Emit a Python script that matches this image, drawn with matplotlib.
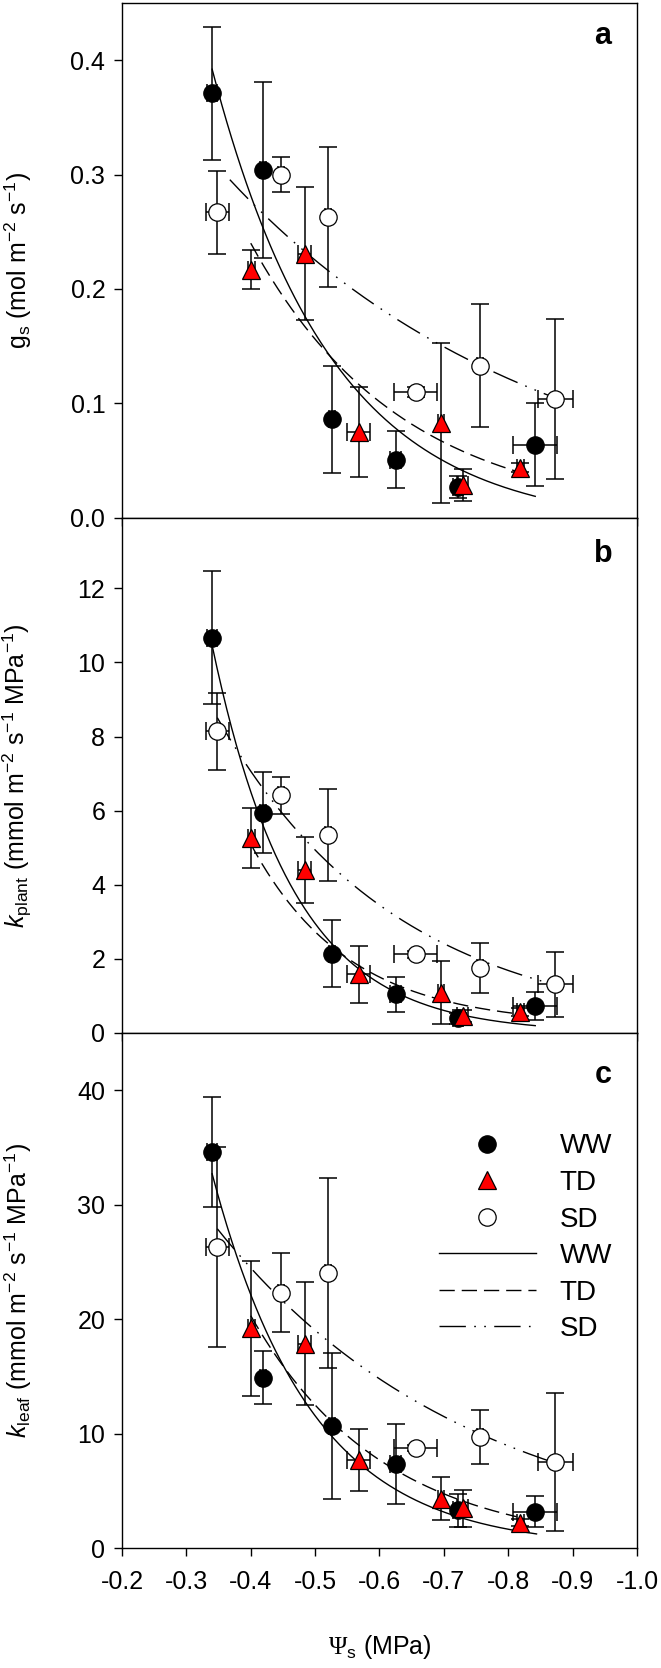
"""
gs, kplant and kleaf against soil water potential (WW / TD / SD)
"""

import numpy as np
import matplotlib
matplotlib.use("Agg")
import matplotlib.pyplot as plt

plt.rcParams["font.family"] = ["Liberation Sans", "DejaVu Sans"]
plt.rcParams["font.size"] = 18
plt.rcParams["mathtext.fontset"] = "custom"
plt.rcParams["mathtext.rm"] = "Liberation Sans"
plt.rcParams["mathtext.it"] = "Liberation Sans:italic"
plt.rcParams["mathtext.sf"] = "Liberation Serif"  # used only for the Psi symbol

# soil water potential (MPa) and its error, per treatment
psi_ww = [-0.340, -0.419, -0.526, -0.625, -0.722, -0.842]
psi_td = [-0.401, -0.484, -0.568, -0.696, -0.729, -0.819]
psi_sd = [-0.348, -0.447, -0.520, -0.656, -0.756, -0.873]
psi_err_ww = [0.008, 0.005, 0.005, 0.008, 0.008, 0.034]
psi_err_td = [0.005, 0.010, 0.018, 0.005, 0.008, 0.005]
psi_err_sd = [0.018, 0.005, 0.005, 0.033, 0.005, 0.027]

# panel a: gs
gs_ww = [0.371, 0.304, 0.086, 0.051, 0.027, 0.064]
gs_td = [0.217, 0.231, 0.075, 0.083, 0.029, 0.044]
gs_sd = [0.267, 0.300, 0.263, 0.110, 0.133, 0.104]
gs_err_ww = [0.058, 0.077, 0.047, 0.025, 0.010, 0.036]
gs_err_td = [0.017, 0.058, 0.039, 0.070, 0.014, 0.004]
gs_err_sd = [0.036, 0.015, 0.061, 0.004, 0.054, 0.070]

# panel b: kplant
kp_ww = [10.67, 5.95, 2.14, 1.04, 0.40, 0.73]
kp_td = [5.26, 4.40, 1.58, 1.09, 0.46, 0.57]
kp_sd = [8.14, 6.41, 5.34, 2.12, 1.76, 1.31]
kp_err_ww = [1.80, 1.10, 0.90, 0.48, 0.15, 0.37]
kp_err_td = [0.80, 0.90, 0.76, 0.85, 0.15, 0.10]
kp_err_sd = [1.04, 0.50, 1.24, 0.10, 0.67, 0.87]

# panel c: kleaf
kl_ww = [34.6, 14.9, 10.65, 7.38, 3.31, 3.17]
kl_td = [19.2, 17.86, 7.67, 4.33, 3.46, 2.21]
kl_sd = [26.3, 22.3, 24.0, 8.74, 9.70, 7.52]
kl_err_ww = [4.8, 2.35, 6.4, 3.5, 1.45, 1.35]
kl_err_td = [5.9, 5.4, 2.7, 1.85, 1.6, 0.3]
kl_err_sd = [8.7, 3.45, 8.3, 0.3, 2.36, 6.0]

# fitted exponential decays: y = y0 + a*exp(-k*(|psi| - s0)), drawn from s0 to s1
fit_a = [(-0.008, 0.400, 0.340, 5.38, 0.842),
         (0.0, 0.240, 0.400, 4.30, 0.819),
         (0.0, 0.2955, 0.3675, 2.05, 0.866)]
fit_b = [(0.0, 10.46, 0.340, 7.90, 0.842),
         (0.2, 4.90, 0.400, 6.60, 0.819),
         (0.0, 8.51, 0.348, 3.58, 0.869)]
fit_c = [(0.0, 32.7, 0.340, 6.50, 0.844),
         (0.0, 20.3, 0.400, 4.85, 0.813),
         (0.0, 27.9, 0.348, 2.52, 0.869)]

labels = ["WW", "TD", "SD"]
marker_style = [dict(marker="o", mfc="black", mec="black", ms=12.5),
                dict(marker="^", mfc="red", mec="black", ms=13.5),
                dict(marker="o", mfc="white", mec="black", ms=12.5)]
line_style = [dict(ls="-"), dict(dashes=(11, 5)), dict(dashes=(19, 6, 1.2, 6, 1.2, 6))]

panels = [
    ([gs_ww, gs_td, gs_sd], [gs_err_ww, gs_err_td, gs_err_sd], fit_a, 0.45,
     [0, 0.1, 0.2, 0.3, 0.4], "{:.1f}", r"g$_{\rm s}$ (mol m$^{-2}$ s$^{-1}$)", "a", 0.935),
    ([kp_ww, kp_td, kp_sd], [kp_err_ww, kp_err_td, kp_err_sd], fit_b, 13.9,
     [0, 2, 4, 6, 8, 10, 12], "{:.0f}",
     r"$k_{\rm plant}$ (mmol m$^{-2}$ s$^{-1}$ MPa$^{-1}$)", "b", 0.93),
    ([kl_ww, kl_td, kl_sd], [kl_err_ww, kl_err_td, kl_err_sd], fit_c, 45,
     [0, 10, 20, 30, 40], "{:.0f}",
     r"$k_{\rm leaf}$ (mmol m$^{-2}$ s$^{-1}$ MPa$^{-1}$)", "c", 0.918),
]

psi = [psi_ww, psi_td, psi_sd]
psi_err = [psi_err_ww, psi_err_td, psi_err_sd]

fig = plt.figure(figsize=(6.61, 16.68), dpi=100)
bottoms = [0.6895, 0.3807, 0.0719]

for i, (ys, errs, fits, ytop, yticks, fmt, ylab, letter, ly) in enumerate(panels):
    ax = fig.add_axes([0.1846, bottoms[i], 0.779, 0.3088])
    marks, lines = [], []
    for j in range(3):
        y0, a, s0, k, s1 = fits[j]
        s = np.linspace(s0, s1, 200)
        (ln,) = ax.plot(-s, y0 + a * np.exp(-k * (s - s0)), color="black", lw=1.0,
                        zorder=2, **line_style[j])
        lines.append(ln)
    for j in range(3):
        ax.errorbar(psi[j], ys[j], yerr=errs[j], xerr=psi_err[j], fmt="none",
                    ecolor="black", elinewidth=1.1, capsize=6.5, capthick=1.1, zorder=3)
        (mk,) = ax.plot(psi[j], ys[j], ls="none", mew=0.9, zorder=4, **marker_style[j])
        marks.append(mk)

    ax.set_xlim(-0.2, -1.0)
    ax.set_ylim(0, ytop)
    ax.set_xticks(np.arange(-0.2, -1.01, -0.1))
    ax.set_yticks(yticks)
    ax.set_yticklabels([fmt.format(t) for t in yticks])
    ax.tick_params(direction="out", length=6, width=1, pad=6, labelsize=18)
    ax.tick_params(axis="x", pad=10)
    for sp in ax.spines.values():
        sp.set_linewidth(1.0)
    if i < 2:
        ax.tick_params(axis="x", labelbottom=False)
    else:
        ax.set_xticklabels(["{:.1f}".format(t) for t in np.arange(-0.2, -1.01, -0.1)])
        ax.set_xlabel(r"$\mathsf{\Psi}_{\rm s}$ (MPa)", labelpad=28)
    ax.set_ylabel(ylab)
    ax.yaxis.set_label_coords(-0.17, 0.5)
    ax.text(0.934, ly, letter, transform=ax.transAxes, fontsize=22, fontweight="bold",
            ha="center", va="center")

    if i == 2:
        ax.legend(marks + lines, labels + labels, loc="upper left",
                  bbox_to_anchor=(0.615, 0.805), frameon=False, handlelength=3.5,
                  handletextpad=0.85, labelspacing=0.38, borderpad=0, borderaxespad=0,
                  numpoints=1, fontsize=20)

plt.savefig("out.png", dpi=100)
